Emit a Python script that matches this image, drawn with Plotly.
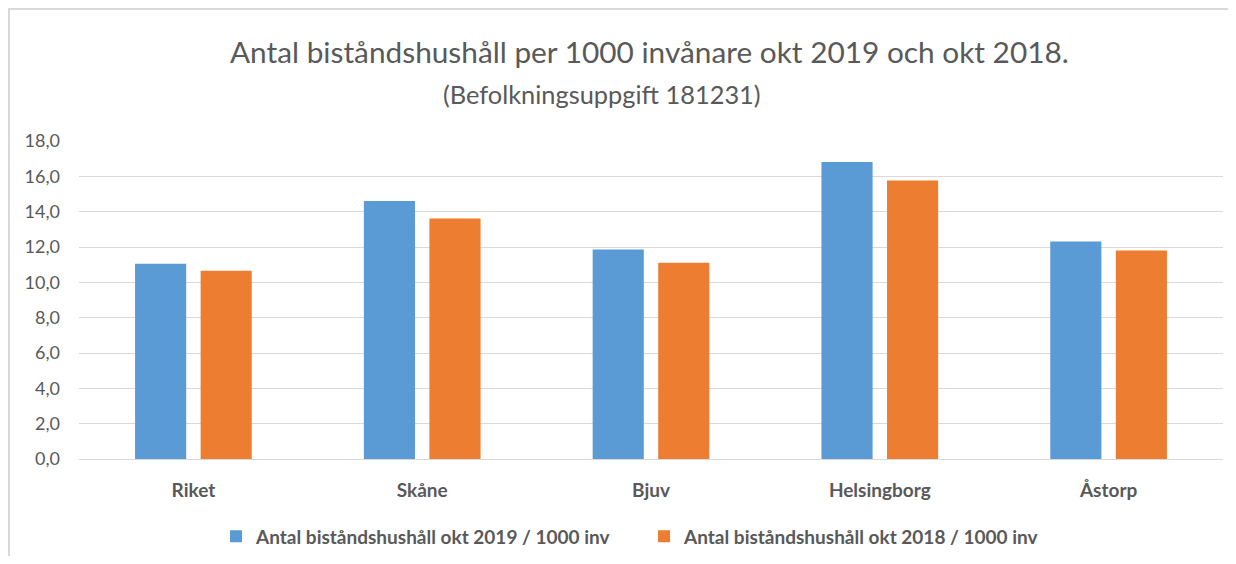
import plotly.graph_objects as go

categories = ["Riket", "Skåne", "Bjuv", "Helsingborg", "Åstorp"]
values_2019 = [11.05, 14.61, 11.86, 16.81, 12.31]
values_2018 = [10.66, 13.61, 11.11, 15.77, 11.80]
series_names = ["Antal biståndshushåll okt 2019 / 1000 inv",
                "Antal biståndshushåll okt 2018 / 1000 inv"]
y_ticks = [0, 2, 4, 6, 8, 10, 12, 14, 16, 18]

FONT = "Lato, 'Open Sans', sans-serif"
GRAY = "#595959"

fig = go.Figure()
fig.add_trace(go.Bar(x=categories, y=values_2019, name=series_names[0],
                     marker=dict(color="#5B9BD5", line=dict(width=0))))
fig.add_trace(go.Bar(x=categories, y=values_2018, name=series_names[1],
                     marker=dict(color="#ED7D31", line=dict(width=0))))

# page body has an 8px default margin; figure sized/placed to compensate
OFF = 8
W, H = 1236 - 2 * OFF, 564 - 2 * OFF
ml, mt = 71, 133
mr = W - (1222.7 - OFF)
mb = H - (459.3 - OFF)

pw = W - ml - mr
ph = H - mt - mb
def px_x(ref_px):
    return (ref_px - OFF - ml) / pw
def px_y(ref_py):
    return (H - mb - (ref_py - OFF)) / ph

fig.update_layout(
    width=W, height=H,
    margin=dict(l=ml, r=mr, t=mt, b=mb, autoexpand=False),
    paper_bgcolor="white", plot_bgcolor="white",
    barmode="group", bargap=0.427, bargroupgap=0.22,
    separators=", ",
    font=dict(family=FONT, color=GRAY, size=15),
    showlegend=True,
    legend=dict(orientation="h", x=px_x(216), xanchor="left", y=px_y(536.7), yanchor="middle",
                font=dict(family=FONT, size=19, color=GRAY, weight="bold"),
                itemwidth=30, entrywidth=383, bgcolor="rgba(0,0,0,0)", traceorder="normal"),
    xaxis=dict(showgrid=False, showline=False, ticks="", ticklabelstandoff=18,
               tickfont=dict(family=FONT, size=19, color=GRAY, weight="bold")),
    yaxis=dict(range=[0, 18], tickvals=y_ticks, tickformat=".1f",
               showgrid=True, gridcolor="#D9D9D9", gridwidth=1,
               zeroline=True, zerolinecolor="#D9D9D9", zerolinewidth=1,
               showline=False, ticks="", ticklabelstandoff=18,
               tickfont=dict(family=FONT, size=18, color=GRAY)),
)

fig.add_annotation(text="Antal biståndshushåll per 1000 invånare okt 2019 och okt 2018.",
                   xref="paper", yref="paper", x=px_x(649.5), y=px_y(51),
                   xanchor="center", yanchor="middle", showarrow=False,
                   font=dict(family=FONT, size=29.8, color=GRAY))
fig.add_annotation(text="(Befolkningsuppgift 181231)",
                   xref="paper", yref="paper", x=px_x(602), y=px_y(94),
                   xanchor="center", yanchor="middle", showarrow=False,
                   font=dict(family=FONT, size=25.4, color=GRAY))

fig.add_shape(type="rect", xref="paper", yref="paper",
              x0=px_x(9), x1=px_x(1300), y0=px_y(620), y1=px_y(9),
              line=dict(color="#D9D9D9", width=2), fillcolor="rgba(0,0,0,0)", layer="below")

fig.write_html("out.html")
